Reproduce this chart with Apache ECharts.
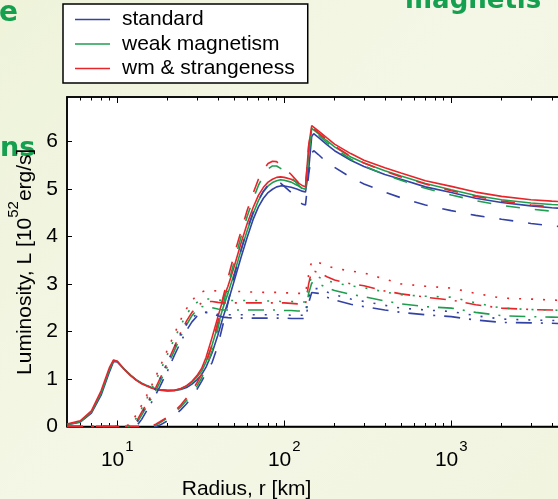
<!DOCTYPE html>
<html><head><meta charset="utf-8">
<script src="https://cdn.jsdelivr.net/npm/echarts@6/dist/echarts.min.js"></script>
<style>html,body{margin:0;padding:0;background:#f1f5e0;} #c{width:558px;height:499px;}</style>
</head><body><div id="c"></div>
<script>
// ---- data ----
const radius = [5,6,7,8,9,9.5,10,11,12,13, 14,15,16,17,18,20,22,24,26,28, 30,32,34,37,40,43,46,50,55,60, 65,70,75,80,85,90,95,100,110,120, 128,134,140,146,150,160,180,200,250,300, 400,500,700,1000,1400,2000,3000,4000,5000];
const legendNames = ['standard','weak magnetism','wm & strangeness'];

const solidStd = [0.04,0.09,0.28,0.66,1.16,1.37,1.36,1.21,1.08,0.98, 0.91,0.86,0.82,0.79,0.775,0.76,0.76,0.78,0.82,0.89, 0.98,1.09,1.25,1.55,1.92,2.30,2.62,3.05,3.55,3.98, 4.35,4.62,4.80,4.92,4.99,5.04,5.06,5.06,5.03,4.99, 4.95,4.93,5.40,6.10,6.16,6.08,5.93,5.80,5.60,5.47, 5.30,5.20,5.04,4.92,4.80,4.71,4.64,4.60,4.58];
const solidWm = [0.04,0.10,0.30,0.70,1.20,1.39,1.37,1.21,1.08,0.98, 0.91,0.86,0.82,0.79,0.77,0.755,0.76,0.79,0.85,0.93, 1.04,1.16,1.36,1.72,2.12,2.50,2.80,3.20,3.70,4.12, 4.47,4.75,4.94,5.06,5.13,5.17,5.19,5.18,5.14,5.07, 5.01,4.99,5.70,6.27,6.25,6.16,6.01,5.88,5.67,5.54, 5.38,5.27,5.11,4.98,4.86,4.77,4.70,4.67,4.65];
const solidWmS = [0.05,0.12,0.33,0.75,1.25,1.40,1.37,1.20,1.07,0.97, 0.90,0.85,0.81,0.78,0.765,0.75,0.76,0.80,0.86,0.95, 1.07,1.22,1.45,1.88,2.30,2.68,2.95,3.35,3.85,4.27, 4.60,4.86,5.03,5.14,5.20,5.24,5.25,5.24,5.20,5.13, 5.07,5.04,5.90,6.33,6.31,6.22,6.07,5.94,5.74,5.60, 5.44,5.33,5.17,5.05,4.93,4.84,4.77,4.74,4.72];

const dashStd = [0,0,0,0,0,0,0,0,0,0, 0,0,0,0,0.03,0.12,0.23,0.35,0.48,0.62, 0.78,0.95,1.12,1.35,1.70,2.15,2.60,3.15,3.70,4.15, 4.50,4.76,4.95,5.08,5.15,5.16,5.12,5.05,4.92,4.78, 4.68,4.66,5.30,5.75,5.80,5.72,5.55,5.45,5.24,5.10, 4.93,4.81,4.66,4.54,4.44,4.36,4.27,4.22,4.19];
const dashWm = [0,0,0,0,0,0,0,0,0,0, 0,0,0,0.03,0.08,0.18,0.29,0.41,0.55,0.69, 0.85,1.02,1.23,1.60,2.05,2.55,2.98,3.45,3.98,4.42, 4.78,5.07,5.28,5.42,5.48,5.48,5.43,5.36,5.24,5.10, 5.00,4.97,5.75,6.24,6.23,6.13,5.97,5.85,5.62,5.48, 5.30,5.18,5.01,4.87,4.75,4.65,4.57,4.53,4.51];
const dashWmS = [0,0,0,0,0,0,0,0,0,0, 0,0,0,0.05,0.10,0.20,0.32,0.45,0.60,0.75, 0.92,1.10,1.33,1.72,2.20,2.72,3.12,3.60,4.10,4.55, 4.90,5.20,5.40,5.53,5.58,5.57,5.50,5.43,5.30,5.15, 5.05,5.02,5.90,6.30,6.28,6.18,6.03,5.90,5.68,5.54, 5.37,5.25,5.10,4.96,4.84,4.74,4.66,4.62,4.60];

const dashDotStd = [0,0,0,0,0,0,0,0,0,0, 0.15,0.33,0.50,0.67,0.84,1.17,1.50,1.78,2.02,2.20, 2.32,2.38,2.40,2.38,2.33,2.30,2.29,2.28,2.28,2.28, 2.28,2.28,2.28,2.28,2.28,2.28,2.28,2.28,2.27,2.27, 2.27,2.27,2.60,2.82,2.85,2.80,2.72,2.66,2.57,2.52, 2.45,2.40,2.35,2.31,2.24,2.19,2.18,2.17,2.16];
const dashDotWm = [0,0,0,0,0,0,0,0,0,0.05, 0.24,0.42,0.59,0.76,0.93,1.27,1.60,1.90,2.14,2.33, 2.46,2.52,2.53,2.50,2.47,2.45,2.45,2.45,2.45,2.45, 2.45,2.45,2.45,2.45,2.45,2.45,2.45,2.44,2.44,2.43, 2.43,2.42,2.80,3.02,3.05,3.00,2.92,2.86,2.78,2.73, 2.64,2.58,2.52,2.49,2.40,2.33,2.31,2.30,2.29];
const dashDotWmS = [0,0,0,0,0,0,0,0,0,0.10, 0.30,0.48,0.65,0.82,1.00,1.35,1.68,1.98,2.22,2.40, 2.52,2.60,2.63,2.63,2.61,2.60,2.60,2.60,2.60,2.60, 2.60,2.60,2.60,2.60,2.60,2.60,2.60,2.60,2.59,2.58, 2.58,2.57,3.00,3.28,3.30,3.24,3.15,3.08,3.00,2.96, 2.85,2.79,2.72,2.66,2.56,2.49,2.46,2.45,2.44];

const dotStd = [0,0,0,0,0,0,0,0,0,0.08, 0.27,0.46,0.64,0.82,1.00,1.35,1.67,1.95,2.16,2.29, 2.36,2.40,2.40,2.38,2.36,2.35,2.35,2.35,2.35,2.35, 2.35,2.35,2.35,2.35,2.35,2.35,2.35,2.35,2.34,2.34, 2.34,2.34,2.70,2.90,2.93,2.90,2.83,2.77,2.68,2.63, 2.55,2.49,2.45,2.42,2.33,2.26,2.24,2.23,2.22];
const dotWm = [0,0,0,0,0,0,0,0,0,0.18, 0.38,0.58,0.78,0.97,1.15,1.52,1.85,2.13,2.36,2.52, 2.61,2.66,2.68,2.68,2.66,2.65,2.65,2.65,2.65,2.65, 2.65,2.65,2.64,2.64,2.64,2.64,2.63,2.63,2.63,2.62, 2.62,2.62,2.95,3.16,3.18,3.14,3.07,3.02,2.96,2.92, 2.83,2.77,2.74,2.72,2.60,2.49,2.46,2.45,2.44];
const dotWmS = [0,0,0,0,0,0,0,0,0.05,0.25, 0.45,0.65,0.85,1.05,1.25,1.62,1.95,2.25,2.48,2.65, 2.76,2.83,2.86,2.86,2.85,2.85,2.84,2.84,2.84,2.83, 2.83,2.83,2.82,2.82,2.82,2.82,2.81,2.81,2.81,2.80, 2.80,2.80,3.20,3.48,3.50,3.45,3.38,3.33,3.27,3.23, 3.10,3.00,2.95,2.91,2.80,2.70,2.68,2.66,2.65];

const xMajorTicks = [10,100,1000];
const xMinorTicks = [6,7,8,9,20,30,40,50,60,70,80,90,200,300,400,500,600,700,800,900,2000,3000,4000];
const yTicks = [0,1,2,3,4,5,6];

// ---- chart ----
const colors = ['#3342a5','#1f9e4f','#e6262b'];
const FONT = 'Liberation Sans, Arial, Helvetica, sans-serif';
const styles = [
  {type:'solid', sets:[solidStd, solidWm, solidWmS]},
  {type:[14,15], sets:[dashStd, dashWm, dashWmS]},
  {type:[16,9,2,9], sets:[dashDotStd, dashDotWm, dashDotWmS]},
  {type:[2,10], sets:[dotStd, dotWm, dotWmS]}
];
const series = [];
styles.forEach(st => {
  st.sets.forEach((arr, ci) => {
    series.push({
      type:'line', name: legendNames[ci], xAxisIndex:0, yAxisIndex:0,
      data: radius.map((r,i)=>[r, arr[i]]),
      symbol:'none', smooth:false,
      lineStyle:{color:colors[ci], width:1.6, type:st.type},
      itemStyle:{color:colors[ci]},
      emphasis:{disabled:true}
    });
  });
});

function xAxisDef(pos, ticks, len, labels, line) {
  return {
    type:'log', logBase:10, min:5, max:5000, position:pos, gridIndex:0,
    axisLine:{show:line, lineStyle:{color:'#000', width:1.5}},
    axisTick:{show:true, inside:true, length:len, customValues:ticks, lineStyle:{color:'#000', width:1}},
    axisLabel: labels ? {
      show:true, customValues:xMajorTicks, margin:13,
      formatter: v => '{b|10}{s|' + Math.round(Math.log10(v)) + '}',
      rich:{
        b:{fontSize:21, fontFamily:FONT, color:'#000', verticalAlign:'bottom'},
        s:{fontSize:15, fontFamily:FONT, color:'#000', verticalAlign:'top', padding:[0,0,16,1]}
      }
    } : {show:false},
    splitLine:{show:false},
    name: labels ? 'Radius, r [km]' : '',
    nameLocation:'middle', nameGap:52,
    nameTextStyle:{fontSize:21, fontFamily:FONT, color:'#000', padding:[0,142,0,0]}
  };
}

const option = {
  animation:false,
  backgroundColor:{type:'linear', x:0, y:0, x2:1, y2:1, colorStops:[
    {offset:0, color:'#eef3da'}, {offset:0.5, color:'#f4f7e6'}, {offset:1, color:'#f1f4df'}]},
  graphic:[
    {type:'text', left:-1, top:0, style:{text:'e', fontSize:28, fontWeight:'bold', fontFamily:'DejaVu Sans', fill:'#14a04f'}},
    {type:'text', left:0, top:135, style:{text:'ns', fontSize:27, fontWeight:'bold', fontFamily:'DejaVu Sans', fill:'#14a04f'}},
    {type:'text', left:405, top:-12, style:{text:'magnetis', fontSize:26, fontWeight:'bold', fontFamily:'DejaVu Sans', fill:'#14a04f'}}
  ],
  legend:{
    data:legendNames, left:63, top:4, orient:'vertical', icon:'rect',
    backgroundColor:'#fff', borderColor:'#000', borderWidth:1.5, borderRadius:0,
    padding:[5,13,4,12], itemGap:3.5, itemWidth:35, itemHeight:1.5,
    textStyle:{fontSize:21, fontFamily:FONT, color:'#000', padding:[0,0,0,7]},
    selectedMode:false
  },
  grid:{left:67, top:97, right:-10, bottom:72.5, show:true, backgroundColor:'#fff', borderColor:'#000', borderWidth:1.5, containLabel:false, outerBoundsMode:'none'},
  xAxis:[
    xAxisDef('bottom', xMajorTicks, 6, true, true),
    xAxisDef('bottom', xMinorTicks, 3.5, false, false),
    xAxisDef('top', xMajorTicks, 6, false, true),
    xAxisDef('top', xMinorTicks, 3.5, false, false)
  ],
  yAxis:[{
    type:'value', min:0, max:6.93, position:'left',
    axisLine:{show:true, lineStyle:{color:'#000', width:1.5}},
    axisTick:{show:true, inside:true, length:5, customValues:yTicks, lineStyle:{color:'#000'}},
    axisLabel:{customValues:yTicks, fontSize:21, fontFamily:FONT, color:'#000', margin:9},
    splitLine:{show:false},
    name:'{a|Luminosity, L [10}{s|52}{a|erg/s]}',
    nameLocation:'middle', nameRotate:90, nameGap:25,
    nameTextStyle:{rich:{
      a:{fontSize:21, fontFamily:FONT, color:'#000', verticalAlign:'bottom'},
      s:{fontSize:15, fontFamily:FONT, color:'#000', verticalAlign:'top', padding:[0,0,14,0]}
    }}
  }],
  series: series
};
const chart = echarts.init(document.getElementById('c'), null, {renderer:'canvas'});
chart.setOption(option);
</script></body></html>
